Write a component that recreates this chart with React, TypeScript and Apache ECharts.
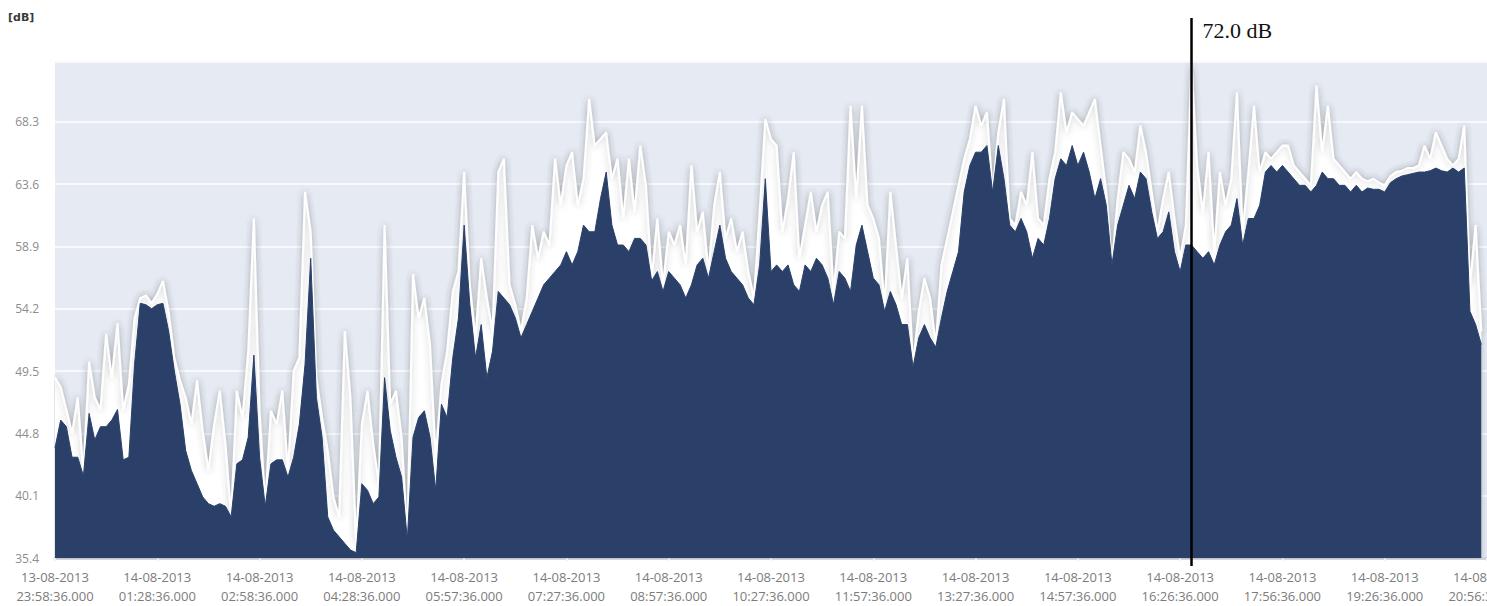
import React, { useEffect, useRef } from "react";
import * as echarts from "echarts";

// ---- data ----
const tickLabels: string[] = [
  "13-08-2013\n23:58:36.000",
  "14-08-2013\n01:28:36.000",
  "14-08-2013\n02:58:36.000",
  "14-08-2013\n04:28:36.000",
  "14-08-2013\n05:57:36.000",
  "14-08-2013\n07:27:36.000",
  "14-08-2013\n08:57:36.000",
  "14-08-2013\n10:27:36.000",
  "14-08-2013\n11:57:36.000",
  "14-08-2013\n13:27:36.000",
  "14-08-2013\n14:57:36.000",
  "14-08-2013\n16:26:36.000",
  "14-08-2013\n17:56:36.000",
  "14-08-2013\n19:26:36.000",
  "14-08-2013\n20:56:36.000",
];
const SAMPLES_PER_TICK = 18;

// upper (max) level, white
const maxLevels: number[] = [
  49.0, 48.3, 46.6, 44.8, 47.5, 41.8, 50.2, 47.5, 46.6, 52.3,
  49.0, 53.1, 46.6, 48.5, 53.5, 55.0, 55.2, 54.6, 55.3, 56.3,
  54.0, 50.5, 48.8, 47.5, 45.5, 48.8, 45.0, 42.0, 45.5, 48.0,
  44.0, 38.6, 48.0, 46.0, 51.0, 61.0, 46.5, 39.5, 46.5, 45.5,
  48.0, 42.0, 49.5, 50.5, 63.0, 60.0, 49.0, 46.0, 43.5, 40.0,
  38.5, 52.5, 47.5, 36.5, 45.5, 48.0, 44.0, 41.0, 60.5, 47.0,
  48.0, 44.5, 37.0, 56.8, 53.5, 55.0, 51.5, 43.0, 48.5, 51.0,
  55.5, 57.0, 64.5, 56.0, 52.0, 58.0, 55.0, 52.5, 64.5, 65.5,
  56.0, 54.5, 52.5, 55.0, 60.5, 58.0, 60.0, 59.0, 65.5, 62.0,
  65.0, 66.0, 62.0, 64.0, 70.0, 66.5, 67.0, 67.5, 64.0, 65.5,
  61.0, 65.5, 61.5, 66.5, 63.5, 56.5, 61.0, 56.0, 60.0, 59.0,
  60.5, 57.5, 65.0, 60.0, 61.5, 57.0, 62.0, 64.5, 59.5, 61.0,
  58.5, 60.0, 57.0, 55.0, 61.5, 68.5, 67.0, 66.5, 60.0, 62.5,
  66.0, 58.0, 60.5, 63.0, 60.0, 62.0, 63.0, 55.5, 60.0, 59.5,
  69.5, 62.5, 69.5, 62.0, 61.0, 59.5, 54.5, 63.0, 59.0, 55.0,
  58.0, 50.0, 54.0, 56.5, 55.0, 51.5, 57.5, 59.5, 61.5, 63.5,
  65.5, 67.0, 69.5, 68.0, 69.0, 63.0, 67.5, 70.0, 61.0, 60.5,
  63.0, 62.0, 66.0, 61.0, 60.5, 64.0, 66.0, 70.5, 67.5, 69.0,
  68.5, 68.0, 69.0, 70.0, 66.5, 63.0, 57.5, 62.5, 66.0, 65.5,
  64.5, 68.0, 66.0, 63.0, 60.0, 62.5, 64.5, 61.0, 58.0, 60.5,
  72.6, 65.0, 61.5, 66.0, 58.5, 64.5, 62.0, 64.0, 70.5, 60.0,
  64.5, 69.5, 64.5, 66.0, 65.5, 66.0, 66.5, 66.5, 65.0, 64.5,
  64.0, 63.5, 71.0, 66.0, 69.5, 65.5, 65.0, 64.5, 64.0, 64.5,
  64.0, 63.8, 64.0, 63.7, 63.5, 64.2, 64.5, 64.6, 64.8, 64.8,
  65.0, 66.5, 65.5, 67.5, 66.5, 65.5, 65.0, 65.5, 68.0, 56.0,
  60.5, 52.5,
];

// lower level, navy
const lowLevels: number[] = [
  43.7, 45.8, 45.3, 43.0, 43.0, 41.6, 46.3, 44.3, 45.3, 45.3,
  45.8, 46.6, 42.8, 43.0, 50.0, 54.6, 54.5, 54.2, 54.5, 54.6,
  52.5, 49.5, 47.0, 43.5, 42.0, 41.0, 40.0, 39.5, 39.3, 39.5,
  39.3, 38.5, 42.5, 42.8, 44.5, 50.7, 43.0, 39.3, 42.5, 42.8,
  42.8, 41.5, 43.0, 45.5, 50.0, 58.0, 47.5, 44.5, 38.5, 37.5,
  37.0, 36.5, 36.0, 35.8, 41.0, 40.5, 39.5, 40.0, 49.0, 45.0,
  43.0, 41.5, 36.8, 44.5, 46.0, 46.5, 44.5, 40.5, 47.0, 46.0,
  50.5, 53.5, 60.5, 54.5, 50.5, 53.0, 49.0, 51.0, 55.5, 55.0,
  54.5, 53.5, 52.0, 53.0, 54.0, 55.0, 56.0, 56.5, 57.0, 57.5,
  58.5, 57.5, 58.5, 60.5, 60.0, 60.0, 62.5, 64.5, 60.5, 59.0,
  59.0, 58.5, 59.5, 59.5, 59.0, 56.3, 57.0, 55.5, 57.0, 56.5,
  56.0, 55.0, 56.0, 57.5, 58.0, 56.5, 58.5, 60.5, 58.0, 57.0,
  56.5, 56.0, 55.0, 54.5, 57.5, 64.0, 57.0, 57.5, 57.0, 57.5,
  56.0, 55.5, 57.5, 57.0, 58.0, 57.5, 56.5, 54.5, 57.0, 56.5,
  55.5, 59.0, 60.5, 58.5, 56.5, 56.0, 54.0, 55.5, 54.5, 53.0,
  53.0, 49.8, 52.0, 53.0, 52.0, 51.3, 53.5, 55.5, 57.0, 58.5,
  63.0, 65.0, 66.0, 66.0, 66.5, 63.0, 66.5, 64.0, 60.5, 60.0,
  61.0, 60.0, 58.0, 59.5, 59.0, 61.0, 64.0, 65.5, 65.0, 66.5,
  65.0, 66.0, 64.5, 62.5, 64.0, 62.0, 57.5, 60.5, 62.0, 63.5,
  62.5, 64.5, 64.0, 61.5, 59.5, 60.0, 61.5, 58.5, 57.0, 59.0,
  59.0, 58.5, 58.0, 58.5, 57.5, 59.0, 60.0, 60.5, 62.5, 59.0,
  61.0, 61.0, 62.0, 64.5, 65.0, 64.5, 65.0, 64.5, 64.0, 63.5,
  63.5, 63.0, 63.5, 64.5, 64.0, 64.0, 63.5, 63.5, 63.0, 63.5,
  63.0, 63.3, 63.2, 63.2, 63.0, 63.7, 64.0, 64.2, 64.3, 64.4,
  64.5, 64.5, 64.6, 64.8, 64.6, 64.5, 64.8, 64.5, 64.8, 54.0,
  53.0, 51.5,
];

const yTicks: number[] = [35.4, 40.1, 44.8, 49.5, 54.2, 58.9, 63.6, 68.3];
const Y_MIN = 35.4;
const Y_MAX = 72.8;
const Y_STEP = 4.7;
const unitLabel = "[dB]";
const peakReading = "72.0 dB";

const categories: string[] = Array.from(
  { length: (tickLabels.length - 1) * SAMPLES_PER_TICK + 1 },
  (_, i) => String(i)
);

export default function App() {
  const ref = useRef<HTMLDivElement>(null);

  useEffect(() => {
    if (!ref.current) return;
    const chart = echarts.init(ref.current, null, { renderer: "svg" });

    const option: any = {
      animation: false,
      grid: {
        left: 55,
        right: 0,
        top: 62,
        bottom: 48,
        show: true,
        backgroundColor: "#e5eaf3",
        borderWidth: 0,
        containLabel: false,
        outerBoundsMode: "none",
      },
      xAxis: {
        type: "category",
        data: categories,
        boundaryGap: false,
        axisLine: { show: true, lineStyle: { color: "#d3d6db", width: 3 } },
        axisTick: {
          show: true,
          interval: SAMPLES_PER_TICK - 1,
          length: 3,
          lineStyle: { color: "#f2f2f2", width: 2 },
        },
        axisLabel: {
          interval: SAMPLES_PER_TICK - 1,
          formatter: (_v: string, idx: number) =>
            idx % SAMPLES_PER_TICK === 0 ? tickLabels[idx / SAMPLES_PER_TICK] ?? "" : "",
          color: "#7c7c7c",
          fontFamily: "Open Sans",
          fontSize: 13,
          lineHeight: 19,
          margin: 9,
          width: 84,
          overflow: "truncate",
          ellipsis: "",
          hideOverlap: false,
        },
        splitLine: { show: false },
      },
      yAxis: [
        {
          type: "value",
          min: Y_MIN,
          max: Y_MAX,
          splitLine: { show: false },
          axisLine: { show: false },
          axisTick: { show: false },
          axisLabel: {
            customValues: yTicks,
            formatter: (v: number) => v.toFixed(1),
            color: "#8c8c8c",
            fontFamily: "Open Sans",
            fontSize: 12,
            margin: 16,
          },
        },
        {
          type: "value",
          min: 0,
          max: Y_MAX - Y_MIN,
          interval: Y_STEP,
          position: "left",
          axisLabel: { show: false },
          axisLine: { show: false },
          axisTick: { show: false },
          splitLine: { show: true, lineStyle: { color: "#f7f9fc", width: 2 } },
        },
      ],
      series: [
        {
          name: "max",
          type: "line",
          data: maxLevels,
          yAxisIndex: 0,
          symbol: "none",
          silent: true,
          z: 2,
          lineStyle: {
            color: "#ffffff",
            width: 2,
            shadowColor: "rgba(70,70,70,0.35)",
            shadowBlur: 6,
          },
          areaStyle: {
            color: "#ffffff",
            opacity: 1,
            shadowColor: "rgba(70,70,70,0.35)",
            shadowBlur: 6,
          },
        },
        {
          name: "level",
          type: "line",
          data: lowLevels,
          yAxisIndex: 0,
          symbol: "none",
          silent: true,
          z: 3,
          lineStyle: { color: "#2a4069", width: 1 },
          areaStyle: { color: "#2a4069", opacity: 1 },
        },
      ],
    };

    chart.setOption(option);

    const peak = Math.max(...maxLevels);
    const peakIdx = maxLevels.indexOf(peak);
    const px = chart.convertToPixel({ xAxisIndex: 0 }, peakIdx) as number;
    const bottomY = (chart.convertToPixel({ yAxisIndex: 0 }, Y_MIN) as number) + 8;

    chart.setOption({
      graphic: [
        {
          type: "text",
          left: 8,
          top: 12,
          style: {
            text: unitLabel,
            fill: "#3a3a3a",
            font: "bold 11px 'DejaVu Sans'",
          },
        },
        {
          type: "line",
          shape: { x1: px, y1: 18, x2: px, y2: bottomY },
          style: { stroke: "#000000", lineWidth: 2.5 },
          z: 100,
        },
        {
          type: "text",
          x: px + 11,
          y: 19,
          style: {
            text: peakReading,
            fill: "#111111",
            font: "22px 'Liberation Serif'",
            textVerticalAlign: "top",
          },
          z: 100,
        },
      ],
    });

    return () => chart.dispose();
  }, []);

  return (
    <div
      ref={ref}
      style={{ position: "absolute", left: 0, top: 0, width: 1487, height: 606 }}
    />
  );
}
